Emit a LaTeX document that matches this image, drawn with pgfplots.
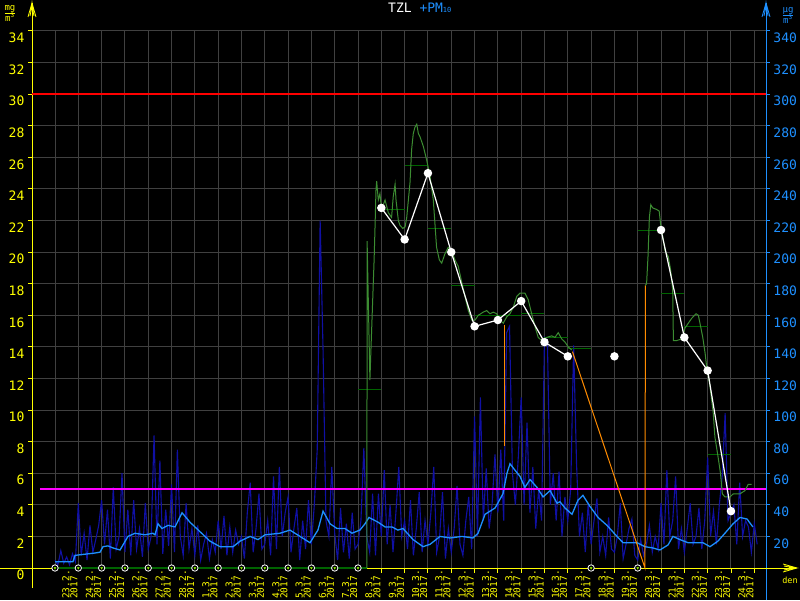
\documentclass[border=0pt]{standalone}
\usepackage{pgfplots}
\pgfplotsset{compat=1.18}
\usepackage{fontspec}
\setmainfont{DejaVu Sans Mono}
\definecolor{gridgray}{RGB}{64,64,64}
\definecolor{pmblue}{RGB}{30,144,255}
\definecolor{spikeblue}{RGB}{16,16,165}
\definecolor{mgreen}{RGB}{60,140,50}
\definecolor{dgreen}{RGB}{0,100,0}
\definecolor{orng}{RGB}{255,140,0}
\definecolor{ylw}{RGB}{255,255,0}
\definecolor{mag}{RGB}{255,0,255}
\begin{document}
\begin{tikzpicture}[x=1pt,y=1pt]
\useasboundingbox (0,0) rectangle (800,600);
\clip (0,0) rectangle (800,600);
\fill[black] (0,0) rectangle (800,600);
% ---------- axis 1: grid and left scale
\begin{axis}[at={(55pt,32pt)}, anchor=origin, scale only axis, width=734pt, height=537pt,
 xmin=-0.99, xmax=30.5, ymin=0, ymax=34,
 axis x line*=bottom, axis y line*=left, axis line style={draw=none},
 xtick={0,...,30}, xticklabel={}, xtick style={draw=none},
 ytick={0,2,...,34}, ytick style={ylw, line width=1pt}, major tick length=4pt, tick align=outside,
 grid=major, grid style={gridgray, line width=1pt},
 yticklabel style={text=ylw, font=\fontsize{13}{13}\selectfont, yshift=-7pt},
 /pgf/number format/assume math mode=true]
\addplot[draw=none] coordinates {(0,0)};
\end{axis}
% ---------- axis 2: PM10 (right scale)
\begin{axis}[at={(55pt,32pt)}, anchor=origin, scale only axis, width=734pt, height=537pt,
 xmin=-0.99, xmax=30.5, ymin=0, ymax=340,
 axis x line=none, axis y line*=right, axis line style={draw=none},
 ytick={20,40,...,340}, ytick style={pmblue, line width=1pt}, major tick length=4pt, tick align=outside,
 yticklabel style={text=pmblue, font=\fontsize{13}{13}\selectfont, yshift=-7pt},
 /pgf/number format/assume math mode=true]
\addplot[spikeblue, line width=1.1pt] coordinates {
(0,5)(0.125,2)(0.25,11)(0.375,3)(0.5,7)(0.625,2)(0.75,9)(0.875,4)
(1,41)(1.125,8)(1.25,22)(1.375,5)(1.5,27)(1.625,10)(1.75,18)(1.875,27)
(2,43)(2.125,15)(2.25,37)(2.375,6)(2.5,51)(2.625,12)(2.75,20)(2.875,60)
(3,10)(3.125,37)(3.25,8)(3.375,43)(3.5,12)(3.625,25)(3.75,7)(3.875,41)
(4,12)(4.125,20)(4.25,84)(4.375,15)(4.5,68)(4.625,9)(4.75,37)(4.875,14)
(5,53)(5.125,10)(5.25,75)(5.375,20)(5.5,8)(5.625,41)(5.75,12)(5.875,25)
(6,8)(6.125,27)(6.25,5)(6.375,15)(6.5,22)(6.625,6)(6.75,18)(6.875,10)
(7,30)(7.125,12)(7.25,33)(7.375,8)(7.5,26)(7.625,10)(7.75,24)(7.875,15)
(8,20)(8.125,6)(8.25,35)(8.375,54)(8.5,10)(8.625,25)(8.75,47)(8.875,12)
(9,15)(9.125,30)(9.25,8)(9.375,58)(9.5,12)(9.625,64)(9.75,20)(9.875,35)
(10,45)(10.125,10)(10.25,25)(10.375,38)(10.5,5)(10.625,30)(10.75,12)(10.875,43)
(11,15)(11.125,40)(11.25,75)(11.375,220)(11.5,138)(11.625,30)(11.75,20)(11.875,64)
(12,22)(12.125,5)(12.25,38)(12.375,10)(12.5,28)(12.625,6)(12.75,35)(12.875,12)
(13,15)(13.125,30)(13.25,76)(13.375,20)(13.5,10)(13.625,47)(13.75,8)(13.875,47)
(14,20)(14.125,62)(14.25,15)(14.375,40)(14.5,10)(14.625,35)(14.75,64)(14.875,20)
(15,30)(15.125,12)(15.25,43)(15.375,8)(15.5,25)(15.625,48)(15.75,10)(15.875,30)
(16,15)(16.125,35)(16.25,64)(16.375,10)(16.5,20)(16.625,48)(16.75,6)(16.875,25)
(17,10)(17.125,25)(17.25,52)(17.375,15)(17.5,8)(17.625,30)(17.75,45)(17.875,12)
(18,96)(18.125,20)(18.25,108)(18.375,30)(18.5,63)(18.625,25)(18.75,40)(18.875,72)
(19,35)(19.125,75)(19.25,30)(19.375,149)(19.5,153)(19.625,60)(19.75,40)(19.875,70)
(20,108)(20.125,40)(20.25,92)(20.375,35)(20.5,64)(20.625,25)(20.75,50)(20.875,30)
(21,146)(21.125,144)(21.25,40)(21.375,60)(21.5,30)(21.625,61)(21.75,20)(21.875,45)
(22,30)(22.125,50)(22.25,141)(22.375,66)(22.5,20)(22.625,35)(22.75,10)(22.875,41)
(23,15)(23.125,30)(23.25,44)(23.375,10)(23.5,20)(23.625,8)(23.75,32)(23.875,12)
(24,10)(24.125,20)(24.25,41)(24.375,6)(24.5,15)(24.625,25)(24.75,31)(24.875,8)
(25,5)(25.125,18)(25.25,8)(25.375,15)(25.5,27)(25.625,10)(25.75,20)(25.875,12)
(26,41)(26.125,15)(26.25,62)(26.375,20)(26.5,30)(26.625,58)(26.75,12)(26.875,25)
(27,10)(27.125,25)(27.25,41)(27.375,15)(27.5,20)(27.625,38)(27.75,12)(27.875,30)
(28,70)(28.125,20)(28.25,36)(28.375,15)(28.5,40)(28.625,58)(28.75,98)(28.875,30)
(29,35)(29.125,40)(29.25,15)(29.375,54)(29.5,20)(29.625,30)(29.75,26)(29.875,10)
(30,28)(30.125,15)};
\addplot[pmblue, line width=1.3pt] coordinates {
(0,4)(0.77,4)(0.86,8)(1.72,9.5)(1.93,10)(2.06,13.5)(2.27,14)(2.49,12.7)(2.79,11.4)
(3.13,20)(3.43,22)(3.86,21)(4.20,22)(4.29,21)(4.42,28)(4.59,25)(4.85,27)(5.15,26)
(5.45,35)(5.79,29)(6.22,23)(6.65,17)(7.08,13.5)(7.64,13.5)(7.94,17)(8.37,20)(8.71,18)
(9.01,21)(9.65,22)(10.08,24)(10.51,20)(10.94,16)(11.28,24)(11.50,36)(11.80,28)
(12.10,25)(12.44,25)(12.74,22)(13.08,24)(13.30,28)(13.47,32)(13.73,30)(13.86,29)
(14.16,26)(14.46,26)(14.71,24)(14.93,25)(15.36,18)(15.79,13.5)(16.09,15)(16.52,20)
(16.95,19)(17.46,20)(17.93,19)(18.15,22)(18.45,34)(18.88,38)(19.22,47)(19.39,60)
(19.52,66)(19.73,62)(19.95,58)(20.16,51)(20.38,56)(20.68,51)(20.94,45)(21.24,49)
(21.54,41)(21.66,42)(21.88,38)(22.18,34)(22.44,43)(22.65,46)(22.95,39)(23.30,32)
(23.68,27)(24.11,20)(24.37,16)(24.67,16)(24.97,16)(25.31,13.5)(25.65,12.7)(25.95,11.4)
(26.30,14.6)(26.51,20)(26.81,18)(27.16,16)(27.54,16)(27.80,16)(28.10,13.5)(28.44,17)
(28.74,22)(29.09,28)(29.39,32)(29.69,31)(29.94,26)};
\addplot[mag, line width=2.5pt] coordinates {(-0.65,50)(30.5,50)};
\end{axis}
% ---------- axis lines and arrows
\draw[ylw, line width=1pt] (32,12) -- (32,597);
\fill[ylw] (32,600) -- (30.5,590) -- (33.5,590) -- cycle;
\draw[ylw, line width=0.8pt] (32,597) -- (28,583) (32,597) -- (36,583) (32,594) -- (30,584) (32,594) -- (34,584);
\draw[pmblue, line width=1pt] (766,0) -- (766,597);
\fill[pmblue] (766,600) -- (764.5,590) -- (767.5,590) -- cycle;
\draw[pmblue, line width=0.8pt] (766,597) -- (762,583) (766,597) -- (770,583) (766,594) -- (764,584) (766,594) -- (768,584);
\draw[ylw, line width=1pt] (0,32) -- (795,32);
\fill[ylw] (799,32) -- (789,33.5) -- (789,30.5) -- cycle;
\draw[ylw, line width=0.8pt] (797,32) -- (783,36) (797,32) -- (783,28) (794,32) -- (784,34) (794,32) -- (784,30);
\foreach \d in {14,...,22,24,26,27,28,29,30} \draw[ylw, line width=1pt] ({55+23.31*\d},32) -- ({55+23.31*\d},27);
\node[text=ylw, font=\fontsize{8.5}{8.5}\selectfont, inner sep=0] at (790,20) {den};
% ---------- axis 3: left-scale data
\begin{axis}[at={(55pt,32pt)}, anchor=origin, scale only axis, width=734pt, height=537pt,
 xmin=-0.99, xmax=30.5, ymin=0, ymax=34, hide axis, clip=false]
\addplot[red, line width=2pt] coordinates {(-0.99,30)(30.5,30)};
\addplot[dgreen, line width=1.2pt] coordinates {(0,0)(13.38,0)};
\addplot[dgreen, line width=1pt, unbounded coords=jump] coordinates {
(13,11.3)(14,11.3)(14,nan)(14,22.7)(15,22.7)(15,nan)(15,25.5)(16,25.5)(16,nan)
(16,21.5)(17,21.5)(17,nan)(17,17.9)(18,17.9)(18,nan)(18,16.0)(19,16.0)(19,nan)
(19,16.0)(20,16.0)(20,nan)(20,16.1)(21,16.1)(21,nan)(21,14.6)(22,14.6)(22,nan)
(22,13.9)(23,13.9)(23,nan)(25,21.4)(26,21.4)(26,nan)(26,17.4)(27,17.4)(27,nan)
(27,15.3)(28,15.3)(28,nan)(28,7.2)(29,7.2)};
\addplot[orng, line width=1.2pt] coordinates {(19.27,15.4)(19.27,7.7)};
\addplot[orng, line width=1pt] coordinates {(22.2,13.7)(25.31,0)(25.33,17.9)};
\addplot[mgreen, line width=1pt] coordinates {
(13.38,0)(13.39,20.7)(13.51,11.9)(13.54,13.2)(13.63,17)(13.69,19.5)(13.73,21.6)(13.77,23.9)
(13.80,24.5)(13.87,23.3)(13.94,23.7)(14.01,22.7)(14.16,23.3)(14.30,22.5)(14.44,22.2)
(14.51,23.5)(14.59,24.3)(14.63,23.3)(14.73,22.0)(14.80,21.7)(14.92,21.5)(15.02,21.6)
(15.09,22.2)(15.16,23.3)(15.23,24.4)(15.30,26.5)(15.37,27.5)(15.44,27.9)(15.52,28.1)
(15.59,27.5)(15.66,27.3)(15.80,26.7)(15.95,25.8)(16.09,24.8)(16.23,23.3)(16.30,21.8)
(16.37,20.3)(16.49,19.5)(16.59,19.3)(16.73,19.9)(16.87,20.3)(17.02,20.1)(17.16,19.5)
(17.30,19.1)(17.45,18.1)(17.59,17.2)(17.73,16.3)(17.88,15.7)(18.02,15.7)(18.16,16.0)
(18.37,16.2)(18.52,16.3)(18.66,16.1)(18.80,16.2)(18.95,16.1)(19.09,15.7)(19.23,15.5)
(19.38,15.9)(19.52,16.1)(19.66,16.5)(19.81,17.2)(19.95,17.4)(20.16,17.4)(20.30,17.0)
(20.45,16.1)(20.59,15.3)(20.73,14.6)(20.88,14.4)(21.09,14.6)(21.31,14.7)(21.45,14.6)
(21.59,14.9)(21.74,14.5)(21.88,14.3)(22.02,14.0)(22.17,13.8)};
\addplot[mgreen, line width=1pt] coordinates {
(25.33,17.9)(25.38,18.0)(25.44,19.7)(25.50,22.2)(25.56,23.0)(25.64,22.8)(25.81,22.7)
(25.92,22.6)(25.98,21.8)(26.07,21.0)(26.17,20.1)(26.31,19.7)(26.41,18.9)(26.50,17.6)
(26.53,14.4)(26.67,14.4)(26.88,14.5)(27.03,15.2)(27.17,15.5)(27.31,15.8)(27.50,16.1)
(27.60,16.0)(27.67,15.5)(27.79,14.6)(27.89,13.6)(27.96,12.7)(28.10,11.5)(28.24,9.8)
(28.31,8.3)(28.45,7.0)(28.55,6.0)(28.63,4.7)(28.74,4.5)(28.96,4.5)(29.10,4.7)
(29.39,4.7)(29.60,4.9)(29.74,5.3)(29.89,5.3)};
\addplot[white, line width=1.2pt, mark=*, mark size=3.6pt, mark options={fill=white, draw=white}, unbounded coords=jump] coordinates {
(14,22.8)(15,20.8)(16,25.0)(17,20.0)(18,15.3)(19,15.7)(20,16.9)(21,14.3)(22,13.4)(23,nan)
(24,13.4)(25,nan)(26,21.4)(27,14.6)(28,12.5)(29,3.6)};
\addplot[only marks, mark=*, mark size=3.2pt, mark options={draw=white, fill=black, line width=0.8pt}] coordinates {
(0,0)(1,0)(2,0)(3,0)(4,0)(5,0)(6,0)(7,0)(8,0)(9,0)(10,0)(11,0)(12,0)(13,0)(23,0)(25,0)};
\addplot[only marks, mark=triangle*, mark size=1.1pt, mark options={draw=ylw!60!green, fill=ylw!60!green, rotate=180}] coordinates {
(0,0)(1,0)(2,0)(3,0)(4,0)(5,0)(6,0)(7,0)(8,0)(9,0)(10,0)(11,0)(12,0)(13,0)(23,0)(25,0)};
\end{axis}
% ---------- texts
\foreach \lab [count=\i from 0] in {23.2.,24.2.,25.2.,26.2.,27.2.,28.2.,1.3.,2.3.,3.3.,4.3.,5.3.,6.3.,7.3.,8.3.,9.3.,10.3.,11.3.,12.3.,13.3.,14.3.,15.3.,16.3.,17.3.,18.3.,19.3.,20.3.,21.3.,22.3.,23.3.,24.3.}
  \node[rotate=90, anchor=west, align=left, inner sep=0, text=ylw, font=\fontsize{9.5}{8}\selectfont] at ({70+23.31*\i},1) {\lab\\2017};
\node[anchor=west, inner sep=0, font=\fontsize{13}{13}\selectfont] at (388,592) {\textcolor{white}{TZL} \textcolor{pmblue}{+PM{\fontsize{7}{7}\selectfont 10}}};
\node[text=ylw, font=\fontsize{9}{9}\selectfont, inner sep=0] at (10,586) {\begin{tabular}{@{}c@{}}mg\\\hline m\textsuperscript{3}\end{tabular}};
\node[text=pmblue, font=\fontsize{9}{9}\selectfont, inner sep=0] at (788,584) {\begin{tabular}{@{}c@{}}μg\\\hline m\textsuperscript{3}\end{tabular}};
\end{tikzpicture}
\end{document}
